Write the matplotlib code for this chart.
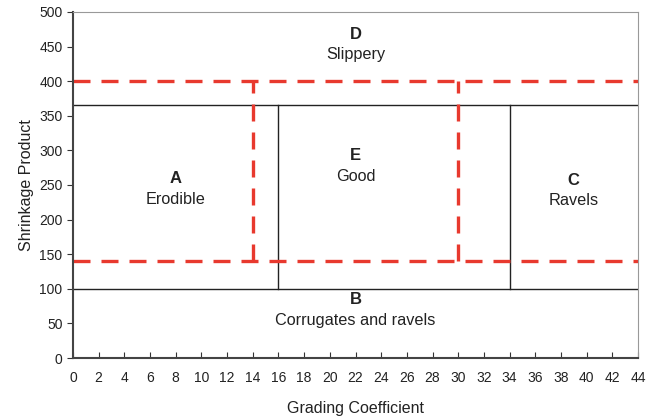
import matplotlib.pyplot as plt

plt.rcParams['font.family'] = ['Liberation Sans', 'DejaVu Sans']

# region boundaries (solid black)
x_bounds = [16, 34]
y_low, y_high = 100, 365

# target ("good") limits (red dashed)
x_dash = [14, 30]
y_dash = [140, 400]

# region labels: letter, description, x, y
labels = ["D", "E", "A", "C", "B"]
descs = ["Slippery", "Good", "Erodible", "Ravels", "Corrugates and ravels"]
lab_x = [22, 22, 8, 39, 22]
lab_y = [468, 293, 259, 257, 84]

fig = plt.figure(figsize=(6.59, 4.17), dpi=100)
ax = fig.add_axes([73/659, 59/417, 565/659, 346/417])

red = '#e8392e'
dash = (0, (5.1, 3.3))

# solid region lines
ax.axhline(y_low, color='#222222', lw=1.0)
ax.axhline(y_high, color='#222222', lw=1.0)
for xv in x_bounds:
    ax.plot([xv, xv], [y_low, y_high], color='#222222', lw=1.0)

# red dashed limits
for yv in y_dash:
    ax.axhline(yv, color=red, lw=2.4, linestyle=dash)
for xv in x_dash:
    ax.plot([xv, xv], y_dash, color=red, lw=2.4, linestyle=dash)

for l, d, x, y in zip(labels, descs, lab_x, lab_y):
    ax.text(x, y, l, ha='center', va='center', fontsize=12,
            fontweight='bold', color='#222222')
    ax.text(x, y - 30, d, ha='center', va='center', fontsize=11.7,
            color='#222222')

ax.set_xlim(0, 44)
ax.set_ylim(0, 500)
ax.set_xticks(range(0, 45, 2))
ax.set_yticks(range(0, 501, 50))
ax.tick_params(axis='x', direction='in', length=4, labelsize=10,
               pad=9, colors='#333333', labelcolor='#222222')
ax.tick_params(axis='y', direction='out', length=4, labelsize=10,
               colors='#333333', labelcolor='#222222')

for s in ['left', 'bottom']:
    ax.spines[s].set_color('#444444')
    ax.spines[s].set_linewidth(1.5)
for s in ['top', 'right']:
    ax.spines[s].set_color('#999999')
    ax.spines[s].set_linewidth(0.8)

ax.set_xlabel('Grading Coefficient', fontsize=11.5, labelpad=12, color='#222222')
ax.set_ylabel('Shrinkage Product', fontsize=11.5, labelpad=4, color='#222222')

fig.savefig('out.png', dpi=100)
